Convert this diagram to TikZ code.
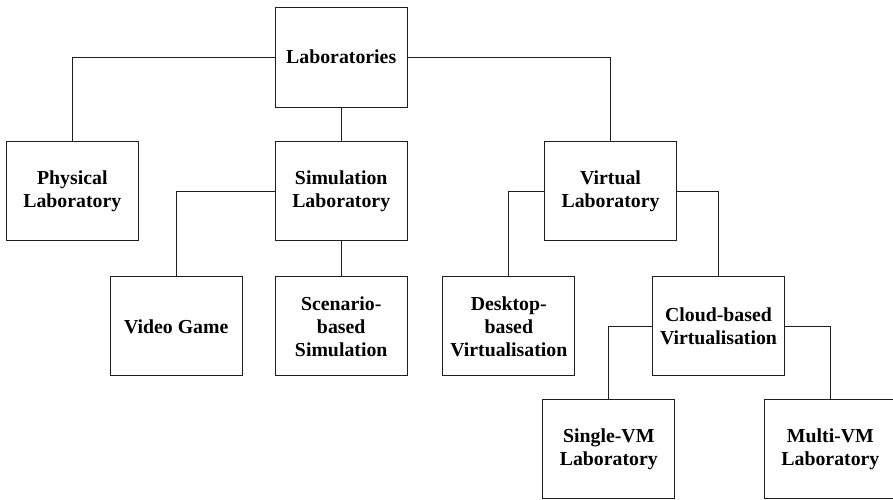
\documentclass[tikz,border=0pt]{standalone}
\usepackage{fontspec}
\setmainfont{Liberation Serif}
\usepackage{tikz}
\usetikzlibrary{positioning}
\definecolor{labline}{RGB}{30,30,30}
\tikzset{
  labbox/.style={draw=labline, line width=1pt, fill=white, minimum width=132.3pt,
    minimum height=99.3pt, align=center, inner sep=0pt,
    font=\fontsize{19.8}{23}\selectfont\bfseries},
  labedge/.style={draw=labline, line width=1pt}
}

\begin{document}
\begin{tikzpicture}[x=1pt, y=-1pt]
% frame
\clip (0,0) rectangle (893,499);
\useasboundingbox (0,0) rectangle (893,499);

% top
\node[labbox, minimum height=100pt] (labs) at (341.2,57) {Laboratories};

% second row
\node[labbox] (phys) at (72.3,191.3)  {Physical\\Laboratory};
\node[labbox] (sim)  at (341.2,191.3) {Simulation\\Laboratory};
\node[labbox] (virt) at (610.5,191.3) {Virtual\\Laboratory};

% third row
\node[labbox] (game)  at (176.2,326.3) {Video Game};
\node[labbox] (scen)  at (341.2,326.3) {Scenario-\\based\\Simulation};
\node[labbox] (desk)  at (508.8,326.3) {Desktop-\\based\\Virtualisation};
\node[labbox] (cloud) at (718.5,326.3) {Cloud-based\\Virtualisation};

% bottom row
\node[labbox] (single) at (608.8,449) {Single-VM\\Laboratory};
\node[labbox] (multi)  at (830.4,449) {Multi-VM\\Laboratory};

% connectors
\draw[labedge] (labs.west) -| (phys.north);
\draw[labedge] (labs.south) -- (sim.north);
\draw[labedge] (labs.east) -| (virt.north);
\draw[labedge] (sim.west) -| (game.north);
\draw[labedge] (sim.south) -- (scen.north);
\draw[labedge] (virt.west) -| (desk.north);
\draw[labedge] (virt.east) -| (cloud.north);
\draw[labedge] (cloud.west) -| (single.north);
\draw[labedge] (cloud.east) -| (multi.north);
\end{tikzpicture}
\end{document}
